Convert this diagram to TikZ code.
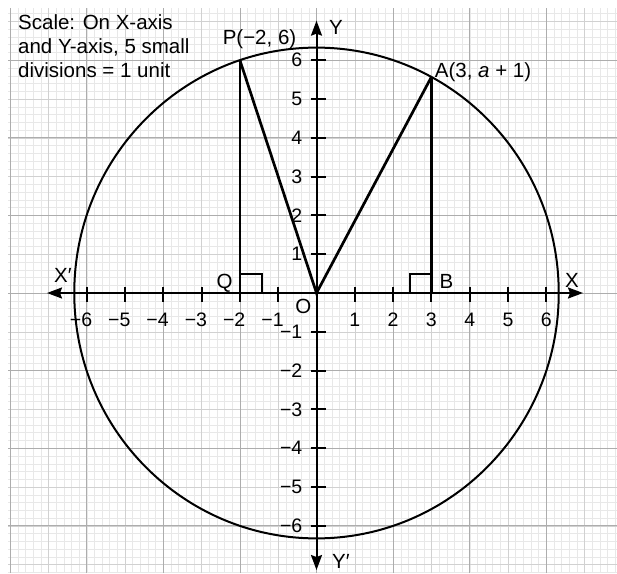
\documentclass[tikz,border=0pt]{standalone}
\usepackage{fontspec}
\setmainfont{Liberation Sans}
\usetikzlibrary{arrows.meta}
\begin{document}
\begin{tikzpicture}[x=38.3pt,y=38.8pt,
  gridminor/.style={draw=black!9,line width=0.4pt},
  gridunit/.style={draw=black!18,line width=0.5pt},
  grideven/.style={draw=black!32,line width=0.7pt},
  axisline/.style={line width=2pt,{Stealth[length=15pt,width=11pt,inset=2pt]}-{Stealth[length=15pt,width=11pt,inset=2pt]}},
  tickline/.style={line width=1.9pt},
  seg/.style={line width=2.7pt,line join=miter},
  rmark/.style={line width=2.1pt},
  circ/.style={line width=2pt},
  lab/.style={font=\fontsize{20.5}{24}\selectfont,inner sep=0pt},
  num/.style={font=\fontsize{19.5}{22}\selectfont,inner sep=0pt},
  scaletext/.style={font=\fontsize{20.5}{24}\selectfont,inner sep=0pt,anchor=base west}
]
\useasboundingbox (-316.5pt,-280pt) rectangle (300.5pt,293pt);
% graph paper
\foreach \i in {-40,...,39} \draw[gridminor] (\i*0.2,-7.22) -- (\i*0.2,7.35);
\foreach \j in {-36,...,36} \draw[gridminor] (-8.05,\j*0.2) -- (7.85,\j*0.2);
\foreach \i in {-8,...,7} \draw[gridunit] (\i,-7.22) -- (\i,7.35);
\foreach \j in {-7,...,7} \draw[gridunit] (-8.05,\j) -- (7.85,\j);
\foreach \i in {-8,-6,...,6} \draw[grideven] (\i,-7.22) -- (\i,7.35);
\foreach \j in {-6,-4,...,6} \draw[grideven] (-8.05,\j) -- (7.85,\j);
% scale text
\node[scaletext] (s1) at (-298.5pt,263pt) {Scale: On X-axis};
\node[scaletext] (s2) at (-298.5pt,239pt) {and Y-axis, 5 small};
\node[scaletext] (s3) at (-298.5pt,215pt) {divisions = 1 unit};
% coordinates
\coordinate (O) at (0,0);
\coordinate (P) at (-2,6);
\coordinate (A) at (3,{sqrt(31)});
\coordinate (Q) at (-2,0);
\coordinate (B) at (3,0);
\coordinate (xl) at (-7.036,0);
\coordinate (xr) at (6.958,0);
\coordinate (yt) at (0,7.02);
\coordinate (yb) at (0,-7.14);
% circle
\draw[circ] (O) circle[radius={sqrt(40)}];
% axes
\draw[axisline] (xl) -- (xr);
\draw[axisline] (yb) -- (yt);
\foreach \k in {-6,...,-1,1,2,...,6} {
  \draw[tickline] (\k,0) ++(0,6pt) -- ++(0,-15pt);
  \draw[tickline] (0,\k) ++(-6pt,0) -- ++(15.5pt,0);
}
\foreach \k in {1,...,6} {
  \node[num,anchor=north] (xn\k) at ([yshift=-20pt]\k,0) {\k};
  \node[num,anchor=north] (xm\k) at ([yshift=-20pt]-\k,0) {\llap{−}\k};
  \node[num,anchor=east] (yn\k) at ([xshift=-14pt]0,\k) {\k};
  \node[num,anchor=east] (ym\k) at ([xshift=-14pt]0,-\k) {−\k};
}
% segments
\draw[seg] (P) -- (O) -- (A);
\draw[seg] (P) -- (Q);
\draw[seg] (A) -- (B);
\draw[rmark] (Q) ++(0,0.48) -- ++(0.57,0) -- ++(0,-0.48);
\draw[rmark] (B) ++(0,0.48) -- ++(-0.57,0) -- ++(0,-0.48);
% labels
\node[lab,anchor=base] (lX1) at (-253.5pt,11pt) {X′};
\node[lab,anchor=base] (lX) at (255.5pt,6pt) {X};
\node[lab,anchor=base] (lY) at (19.5pt,258pt) {Y};
\node[lab,anchor=base] (lY1) at (24.5pt,-275pt) {Y′};
\node[lab] (lO) at (-13.2pt,-13pt) {O};
\node[lab,anchor=base] (lP) at (-57pt,248pt) {P(−2, 6)};
\node[lab,anchor=base] (lA) at (166.5pt,215pt) {A(3, \textit{a} + 1)};
\node[lab,anchor=base] (lQ) at (-92pt,5pt) {Q};
\node[lab,anchor=base] (lB) at (130pt,5pt) {B};
\end{tikzpicture}
\end{document}
